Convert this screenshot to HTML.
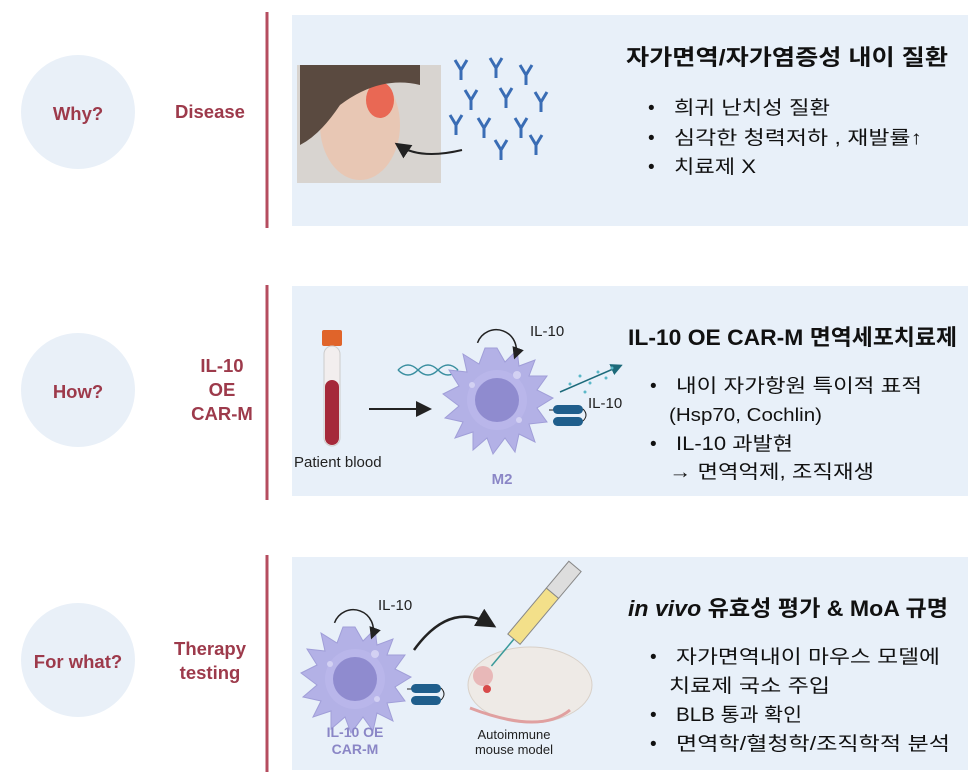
<!DOCTYPE html>
<html><head><meta charset="utf-8"><style>
body{margin:0;background:#fff;width:980px;height:781px;overflow:hidden}
svg{display:block}
text{font-family:"Liberation Sans","Noto Sans CJK KR",sans-serif}
</style></head><body>
<svg width="980" height="781" viewBox="0 0 980 781" xmlns="http://www.w3.org/2000/svg">
<defs>
<marker id="ah" markerWidth="8" markerHeight="8" refX="6" refY="4" orient="auto"><path d="M0,0 L8,4 L0,8z" fill="#222"/></marker>
<marker id="ah2" markerWidth="8" markerHeight="8" refX="6" refY="4" orient="auto"><path d="M0,0 L8,4 L0,8z" fill="#1d6a7a"/></marker>
<g id="cell">
<path d="M0,-52 L8,-38 L20,-50 L22,-34 L38,-40 L32,-24 L50,-24 L40,-10 L56,-2 L40,8 L50,22 L32,24 L38,42 L22,34 L18,52 L8,38 L-4,54 L-10,38 L-24,50 L-24,32 L-42,38 L-34,22 L-52,18 L-38,6 L-54,-6 L-38,-14 L-48,-30 L-30,-28 L-34,-46 L-18,-36 L-12,-52 Z" fill="#b3b1e6" stroke="#a09ed8"/>
<circle r="30" fill="#b9b6ea"/>
<circle r="22" fill="#8f8bcf"/>
<circle cx="-25" cy="-15" r="3" fill="#d3d1f3"/><circle cx="22" cy="20" r="3" fill="#d3d1f3"/><circle cx="20" cy="-25" r="4" fill="#d3d1f3"/>
<line x1="52" y1="10" x2="62" y2="10" stroke="#222"/>
<rect x="56" y="5" width="30" height="9" rx="4.5" fill="#1f5e8c"/>
<rect x="56" y="17" width="30" height="9" rx="4.5" fill="#1f5e8c"/>
<path d="M86,9 q6,6 0,12" fill="none" stroke="#222"/>
</g>
</defs>
<circle cx="78" cy="112" r="57" fill="#e9f0f8"/>
<circle cx="78" cy="390" r="57" fill="#e9f0f8"/>
<circle cx="78" cy="660" r="57" fill="#e9f0f8"/>
<g font-weight="bold" font-size="18.5" fill="#9d3a4b" text-anchor="middle">
<text x="78" y="120">Why?</text>
<text x="78" y="398">How?</text>
<text x="78" y="668">For what?</text>
<text x="210" y="118">Disease</text>
<text x="222" y="372">IL-10</text><text x="222" y="396">OE</text><text x="222" y="420">CAR-M</text>
<text x="210" y="655">Therapy</text><text x="210" y="679">testing</text>
</g>
<g stroke="#b54d5f" stroke-width="3"><line x1="267" y1="12" x2="267" y2="228"/><line x1="267" y1="285" x2="267" y2="500"/><line x1="267" y1="555" x2="267" y2="772"/></g>
<rect x="292" y="15" width="676" height="211" fill="#e8f0f9"/>
<rect x="292" y="286" width="676" height="210" fill="#e8f0f9"/>
<rect x="292" y="557" width="676" height="213" fill="#e8f0f9"/>
<!-- panel 1 -->
<rect x="297" y="65" width="144" height="118" fill="#d8d4d0"/>
<ellipse cx="360" cy="125" rx="40" ry="55" fill="#e8c7b4"/>
<ellipse cx="380" cy="100" rx="14" ry="18" fill="#e8503c" opacity=".8"/>
<path d="M300,65 h120 v20 q-40,-10 -80,20 q-20,30 -40,40z" fill="#5a4a40"/>
<path d="M462,150 Q420,160 398,145" fill="none" stroke="#222" stroke-width="2" marker-end="url(#ah)"/>
<g stroke="#3a6db5" stroke-width="3" fill="none">
<path d="M455,60 l6,10 l6,-10 M461,70 v10"/><path d="M490,58 l6,10 l6,-10 M496,68 v10"/><path d="M520,65 l6,10 l6,-10 M526,75 v10"/><path d="M465,90 l6,10 l6,-10 M471,100 v10"/><path d="M500,88 l6,10 l6,-10 M506,98 v10"/><path d="M535,92 l6,10 l6,-10 M541,102 v10"/><path d="M478,118 l6,10 l6,-10 M484,128 v10"/><path d="M515,118 l6,10 l6,-10 M521,128 v10"/><path d="M450,115 l6,10 l6,-10 M456,125 v10"/><path d="M495,140 l6,10 l6,-10 M501,150 v10"/><path d="M530,135 l6,10 l6,-10 M536,145 v10"/>
</g>
<g font-size="19" fill="#111" lengthAdjust="spacingAndGlyphs">
<text x="626" y="65" font-weight="bold" font-size="22" textLength="322" lengthAdjust="spacingAndGlyphs">자가면역/자가염증성 내이 질환</text>
<text x="648" y="114">•</text><text x="674" y="114" textLength="156" lengthAdjust="spacingAndGlyphs">희귀 난치성 질환</text>
<text x="648" y="144">•</text><text x="674" y="144" textLength="248" lengthAdjust="spacingAndGlyphs">심각한 청력저하 , 재발률↑</text>
<text x="648" y="173">•</text><text x="674" y="173" textLength="82" lengthAdjust="spacingAndGlyphs">치료제 X</text>
</g>
<!-- panel 2 -->
<rect x="322" y="330" width="20" height="16" rx="2" fill="#e0642a"/>
<rect x="324" y="346" width="16" height="100" rx="8" fill="#f2eeee" stroke="#ccc"/>
<rect x="325" y="380" width="14" height="65" rx="7" fill="#a5293a"/>
<text x="294" y="467" font-size="15" fill="#222">Patient blood</text>
<line x1="369" y1="409" x2="428" y2="409" stroke="#222" stroke-width="2" marker-end="url(#ah)"/>
<path d="M398,370 q10,-10 20,0 q10,10 20,0 q10,-10 20,0 M398,370 q10,10 20,0 q10,-10 20,0 q10,10 20,0" fill="none" stroke="#3a8fa0" stroke-width="1.5"/>
<use href="#cell" x="497" y="400"/>
<path d="M478,350 A20,20 0 1 1 518,350" fill="none" stroke="#222" stroke-width="1.5" transform="rotate(20 498 345)" marker-end="url(#ah)"/>
<text x="530" y="336" font-size="15" fill="#222">IL-10</text>
<line x1="560" y1="392" x2="620" y2="366" stroke="#1d6a7a" stroke-width="1.5" marker-end="url(#ah2)"/>
<g fill="#5bb8c8"><circle cx="570" cy="384" r="1.5"/><circle cx="580" cy="376" r="1.5"/><circle cx="590" cy="383" r="1.5"/><circle cx="598" cy="372" r="1.5"/><circle cx="606" cy="378" r="1.5"/><circle cx="585" cy="392" r="1.5"/><circle cx="612" cy="368" r="1.5"/></g>
<text x="588" y="408" font-size="15" fill="#222">IL-10</text>
<text x="502" y="484" font-size="15" font-weight="bold" fill="#8a86c6" text-anchor="middle">M2</text>
<g font-size="19" fill="#111">
<text x="628" y="345" font-weight="bold" font-size="22" textLength="329" lengthAdjust="spacingAndGlyphs">IL-10 OE CAR-M 면역세포치료제</text>
<text x="650" y="392">•</text><text x="676" y="392" textLength="246" lengthAdjust="spacingAndGlyphs">내이 자가항원 특이적 표적</text>
<text x="669" y="421" font-size="18" textLength="153" lengthAdjust="spacingAndGlyphs">(Hsp70, Cochlin)</text>
<text x="650" y="450">•</text><text x="676" y="450" textLength="117" lengthAdjust="spacingAndGlyphs">IL-10 과발현</text>
<text x="669" y="478" textLength="205" lengthAdjust="spacingAndGlyphs">→ 면역억제, 조직재생</text>
</g>
<!-- panel 3 -->
<use href="#cell" x="355" y="679"/>
<path d="M335,630 A20,20 0 1 1 375,630" fill="none" stroke="#222" stroke-width="1.5" transform="rotate(20 355 625)" marker-end="url(#ah)"/>
<text x="378" y="610" font-size="15" fill="#222">IL-10</text>
<text x="355" y="737" font-size="14" font-weight="bold" fill="#8a86c6" text-anchor="middle">IL-10 OE</text>
<text x="355" y="754" font-size="14" font-weight="bold" fill="#8a86c6" text-anchor="middle">CAR-M</text>
<path d="M414,650 Q450,600 492,625" fill="none" stroke="#222" stroke-width="2.5" marker-end="url(#ah)"/>
<ellipse cx="530" cy="685" rx="62" ry="38" fill="#eeeae6" stroke="#d8d0c8"/>
<circle cx="483" cy="676" r="10" fill="#e8b8b8"/>
<circle cx="487" cy="689" r="4" fill="#d84a4a"/>
<path d="M470,708 Q540,735 570,710" fill="none" stroke="#e0a0a0" stroke-width="3"/>
<g transform="rotate(-50 530 620)"><rect x="505" y="612" width="60" height="16" fill="#f3e08a" stroke="#888"/><rect x="565" y="612" width="35" height="16" fill="#ddd" stroke="#888"/><line x1="505" y1="620" x2="470" y2="620" stroke="#3a9a9a" stroke-width="1.5"/></g>
<text x="514" y="739" font-size="13" fill="#222" text-anchor="middle">Autoimmune</text>
<text x="514" y="754" font-size="13" fill="#222" text-anchor="middle">mouse model</text>
<g font-size="19" fill="#111">
<text x="628" y="616" font-weight="bold" font-size="22" textLength="320" lengthAdjust="spacingAndGlyphs"><tspan font-style="italic">in vivo</tspan> 유효성 평가 &amp; MoA 규명</text>
<text x="650" y="663">•</text><text x="676" y="663" textLength="264" lengthAdjust="spacingAndGlyphs">자가면역내이 마우스 모델에</text>
<text x="669" y="692" textLength="161" lengthAdjust="spacingAndGlyphs">치료제 국소 주입</text>
<text x="650" y="721">•</text><text x="676" y="721" textLength="126" lengthAdjust="spacingAndGlyphs">BLB 통과 확인</text>
<text x="650" y="750">•</text><text x="676" y="750" textLength="274" lengthAdjust="spacingAndGlyphs">면역학/혈청학/조직학적 분석</text>
</g>
</svg>
</body></html>
